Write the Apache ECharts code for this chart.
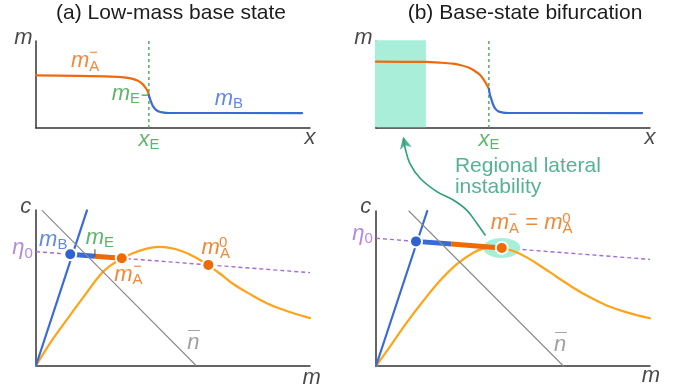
<!DOCTYPE html>
<html>
<head>
<meta charset="utf-8">
<script src="https://cdn.jsdelivr.net/npm/echarts@6.0.0/dist/echarts.min.js"></script>
<style>
  html, body { margin: 0; padding: 0; background: #ffffff; }
  #chart { width: 673px; height: 390px; }
</style>
</head>
<body>
<div id="chart"></div>
<script>
// ---------- Top row: mass profile m(x) across the interface ----------
const xE = 4.12;
const lowProfileA = [[0, 6.06], [1.5, 6.0], [2.5, 5.93], [3.1, 5.85], [3.45, 5.7], [3.7, 5.45], [3.88, 5.07], [4.0, 4.62], [4.08, 4.2], [4.12, 3.79]];
const lowProfileB = [[4.12, 3.79], [4.16, 3.35], [4.22, 2.84], [4.28, 2.45], [4.37, 2.12], [4.48, 1.9], [4.62, 1.8], [4.8, 1.74], [9.71, 1.72]];
const lowMETick = [[3.87, 3.79], [4.09, 3.79]];
const bifProfileA = [[0, 7.62], [1.82, 7.59], [2.34, 7.51], [2.8, 7.4], [3.07, 7.24], [3.35, 6.98], [3.55, 6.67], [3.8, 6.09], [3.98, 5.32], [4.08, 4.75], [4.12, 4.5]];
const bifProfileB = [[4.12, 4.5], [4.16, 3.79], [4.22, 3.22], [4.28, 2.64], [4.36, 2.2], [4.46, 1.93], [4.6, 1.8], [4.8, 1.74], [9.71, 1.72]];
const unstableBand = [[-0.04, 1.82]];

// ---------- Bottom row: (m, c) phase plane ----------
const nullclineLow = [[0, 0], [0.51, 1.43], [1.12, 2.94], [1.73, 4.40], [2.34, 5.82], [2.70, 6.40], [3.13, 6.87], [3.55, 7.24], [4.04, 7.52], [4.46, 7.63], [4.89, 7.56], [5.38, 7.32], [5.86, 6.91], [6.29, 6.44], [6.72, 5.90], [7.20, 5.24], [7.81, 4.59], [8.42, 4.01], [9.15, 3.50], [10, 3.05]];
const nullclineBif = [[0, 0], [0.51, 1.25], [1.12, 2.80], [1.73, 4.21], [2.34, 5.51], [2.94, 6.56], [3.55, 7.31], [3.92, 7.57], [4.22, 7.63], [4.59, 7.61], [5.01, 7.42], [5.50, 7.01], [5.99, 6.47], [6.59, 5.76], [7.20, 5.05], [7.81, 4.43], [8.42, 3.91], [9.15, 3.46], [10, 3.08]];
const bLineLow = [[0, 0], [1.86, 9.97]];
const bLineBif = [[0, 0], [1.87, 10.0]];
const nBarLow = [[0.22, 9.97], [5.84, 0]];
const nBarBif = [[1.2, 10.0], [6.84, 0]];
const eta0Low = [[0, 7.32], [10, 5.97]];
const eta0Bif = [[0, 8.24], [10, 6.88]];
const mBLow = [1.25, 7.15];
const mELow = [2.15, 7.03];
const mAminusLow = [3.13, 6.90];
const mA0Low = [6.29, 6.47];
const mBBif = [1.46, 8.04];
const mEBif = [2.76, 7.87];
const mABif = [4.59, 7.62];
const arrowPath = [[3.98, 8.45], [3.68, 9.21], [3.31, 10.06], [2.82, 10.71], [2.22, 11.25], [1.61, 12.11], [1.24, 13.05], [1.06, 14.1], [1.01, 14.62]];
const arrowHead = [0.99, 14.8];

const FONT = '"Liberation Sans", Arial, Helvetica, sans-serif';
const COL = {
  ink: '#1c1c1c', axis: '#333333', orange: '#ee6a0e', blue: '#3a6bd4', amber: '#ffa31a',
  green: '#36a447', teal: '#2b9f79', mint: '#a9eed8', purple: '#a36bd6', gray: '#8a8a8a',
  dotBlue: '#2f62d0', dotOrange: '#ec6a08', tick: '#4d5566'
};

function richFor(color) {
  return {
    v: { fontFamily: FONT, fontStyle: 'italic', fontSize: 22, lineHeight: 26, verticalAlign: 'middle', color: color },
    s: { fontFamily: FONT, fontSize: 15, lineHeight: 16, verticalAlign: 'bottom', color: color },
    s2: { fontFamily: FONT, fontSize: 15, lineHeight: 10, verticalAlign: 'bottom', color: color },
    o: { fontFamily: FONT, fontSize: 22, lineHeight: 26, verticalAlign: 'middle', color: color }
  };
}
function tag(pos, text, color, extra) {
  return {
    value: pos,
    label: Object.assign({
      show: true, position: 'inside', formatter: function () { return text; },
      color: color, fontFamily: FONT, fontSize: 15, rich: richFor(color)
    }, extra || {})
  };
}
function texts(g, items) {
  return { type: 'scatter', xAxisIndex: g, yAxisIndex: g, data: items, symbolSize: 0,
    itemStyle: { color: 'transparent' }, clip: false, silent: true, z: 8 };
}
function curve(g, data, color, width, extra) {
  return Object.assign({ type: 'line', xAxisIndex: g, yAxisIndex: g, data: data, symbol: 'none',
    clip: false, silent: true, z: 3, lineStyle: { color: color, width: width, cap: 'round' } }, extra || {});
}
function dots(g, pts, color) {
  return { type: 'scatter', xAxisIndex: g, yAxisIndex: g, data: pts, symbolSize: 12, clip: false, silent: true, z: 6,
    itemStyle: { color: color, borderColor: '#ffffff', borderWidth: 2, opacity: 1 } };
}
function axes() {
  return [0, 1, 2, 3].map(function (i) {
    return { gridIndex: i, type: 'value', min: 0, max: 10,
      axisLine: { show: true, onZero: false, lineStyle: { color: COL.axis, width: 1.5 } },
      axisTick: { show: false }, axisLabel: { show: false }, splitLine: { show: false } };
  });
}

const chart = echarts.init(document.getElementById('chart'), null, { renderer: 'canvas' });

const series = [
  // ----- (a) top: profile -----
  curve(0, [[xE, 0], [xE, 10]], COL.green, 1.3, { lineStyle: { color: COL.green, width: 1.3, type: [3, 3] }, z: 2 }),
  curve(0, lowProfileA, COL.orange, 2.2, { smooth: 0.3 }),
  curve(0, lowProfileB, COL.blue, 2.2, { smooth: 0.3 }),
  curve(0, lowMETick, COL.green, 1.3, { z: 4 }),
  texts(0, [
    tag([-0.46, 10.34], '{v|m}', COL.ink),
    tag([10.0, -1.15], '{v|x}', COL.ink),
    tag([1.79, 7.67], '{v|m}{s|A}', COL.orange),
    tag([2.1, 8.62], '\u2212', COL.orange),
    tag([3.28, 3.93], '{v|m}{s|E}', COL.green),
    tag([7.04, 3.36], '{v|m}{s|B}', COL.blue),
    tag([4.12, -1.34], '{v|x}{s|E}', COL.green)
  ]),

  // ----- (b) top: profile with unstable band -----
  { type: 'custom', xAxisIndex: 1, yAxisIndex: 1, data: unstableBand, z: 1, silent: true, clip: false,
    renderItem: function (params, api) {
      const p0 = api.coord([api.value(0), 10.1]);
      const p1 = api.coord([api.value(1), 0.1]);
      return { type: 'rect', shape: { x: p0[0], y: p0[1], width: p1[0] - p0[0], height: p1[1] - p0[1] },
        style: { fill: COL.mint } };
    } },
  curve(1, [[xE, 0], [xE, 10]], COL.green, 1.3, { lineStyle: { color: COL.green, width: 1.3, type: [3, 3] }, z: 2 }),
  curve(1, bifProfileA, COL.orange, 2.2, { smooth: 0.3 }),
  curve(1, bifProfileB, COL.blue, 2.2, { smooth: 0.3 }),
  texts(1, [
    tag([-0.46, 10.34], '{v|m}', COL.ink),
    tag([10.0, -1.15], '{v|x}', COL.ink),
    tag([4.12, -1.34], '{v|x}{s|E}', COL.green)
  ]),

  // ----- (a) bottom: phase plane -----
  curve(2, eta0Low, COL.purple, 1.4, { lineStyle: { color: COL.purple, width: 1.4, type: [4, 3] }, z: 2 }),
  curve(2, nullclineLow, COL.amber, 2.2, { smooth: 0.35 }),
  curve(2, bLineLow, COL.blue, 2.2),
  curve(2, [mBLow, mELow], COL.blue, 5, { z: 4, lineStyle: { color: COL.blue, width: 5, cap: 'butt' } }),
  curve(2, [mELow, mAminusLow], COL.dotOrange, 5, { z: 4, lineStyle: { color: COL.dotOrange, width: 5, cap: 'butt' } }),
  curve(2, nBarLow, COL.gray, 1.1, { z: 4.5 }),
  curve(2, [mELow, [mELow[0], mELow[1] + 0.42]], COL.tick, 1.1, { z: 4.6 }),
  dots(2, [mBLow], COL.dotBlue),
  dots(2, [mAminusLow, mA0Low], COL.dotOrange),
  texts(2, [
    tag([-0.37, 10.23], '{v|c}', COL.ink),
    tag([10.06, -0.81], '{v|m}', COL.ink),
    tag([-0.49, 7.55], '{v|\u03b7}{s|0}', COL.purple),
    tag([0.63, 8.10], '{v|m}{s|B}', COL.blue),
    tag([2.33, 8.23], '{v|m}{s|E}', COL.green),
    tag([3.37, 5.86], '{v|m}{s|A}', COL.dotOrange),
    tag([3.70, 6.34], '\u2212', COL.dotOrange),
    tag([6.56, 7.56], '{v|m}{s2|A}', COL.dotOrange),
    tag([6.83, 7.88], '0', COL.dotOrange),
    tag([5.74, 1.45], '{v|n}', COL.gray),
    tag([5.77, 1.68], '\u00af', COL.gray, { fontSize: 21 })
  ]),

  // ----- (b) bottom: phase plane at bifurcation -----
  curve(3, eta0Bif, COL.purple, 1.4, { lineStyle: { color: COL.purple, width: 1.4, type: [4, 3] }, z: 2 }),
  { type: 'scatter', xAxisIndex: 3, yAxisIndex: 3, data: [mABif], symbolSize: [37, 20], z: 2.5, silent: true,
    itemStyle: { color: COL.mint, opacity: 1 } },
  curve(3, nullclineBif, COL.amber, 2.2, { smooth: 0.35 }),
  curve(3, bLineBif, COL.blue, 2.2),
  curve(3, [mBBif, mEBif], COL.blue, 5, { z: 4, lineStyle: { color: COL.blue, width: 5, cap: 'butt' } }),
  curve(3, [mEBif, mABif], COL.dotOrange, 5, { z: 4, lineStyle: { color: COL.dotOrange, width: 5, cap: 'butt' } }),
  curve(3, nBarBif, COL.gray, 1.1, { z: 4.5 }),
  dots(3, [mBBif], COL.dotBlue),
  dots(3, [mABif], COL.dotOrange),
  curve(3, arrowPath, COL.teal, 1.6, { smooth: 0.4, z: 5 }),
  { type: 'scatter', xAxisIndex: 3, yAxisIndex: 3, data: [arrowHead], symbol: 'arrow', symbolSize: [9, 12],
    symbolRotate: 13, clip: false, silent: true, z: 5, itemStyle: { color: COL.teal } },
  texts(3, [
    tag([-0.37, 10.26], '{v|c}', COL.ink),
    tag([10.03, -0.61], '{v|m}', COL.ink),
    tag([-0.49, 8.55], '{v|\u03b7}{s|0}', COL.purple),
    tag([5.68, 9.22], '{v|m}{s2|A}{o| = }{v|m}{s2|A}', COL.dotOrange),
    tag([4.99, 9.72], '\u2212', COL.dotOrange),
    tag([6.95, 9.50], '0', COL.dotOrange),
    tag([6.72, 1.37], '{v|n}', COL.gray),
    tag([6.75, 1.60], '\u00af', COL.gray, { fontSize: 21 }),
    tag([2.88, 12.23], 'Regional lateral\ninstability', COL.teal, { fontSize: 21, lineHeight: 21, align: 'left' })
  ])
];

chart.setOption({
  animation: false,
  backgroundColor: '#ffffff',
  title: [
    { text: '(a) Low-mass base state', left: 171, top: 1, textAlign: 'center', padding: 0,
      textStyle: { fontFamily: FONT, fontSize: 21, fontWeight: 'normal', color: COL.ink, lineHeight: 24 } },
    { text: '(b) Base-state bifurcation', left: 525, top: 1, textAlign: 'center', padding: 0,
      textStyle: { fontFamily: FONT, fontSize: 21, fontWeight: 'normal', color: COL.ink, lineHeight: 24 } }
  ],
  grid: [
    { left: 36, top: 41, width: 274, height: 87 },
    { left: 376, top: 41, width: 274, height: 87 },
    { left: 36, top: 210, width: 274, height: 155.5 },
    { left: 376, top: 211, width: 274, height: 155 }
  ],
  xAxis: axes(),
  yAxis: axes(),
  series: series
});
</script>
</body>
</html>
